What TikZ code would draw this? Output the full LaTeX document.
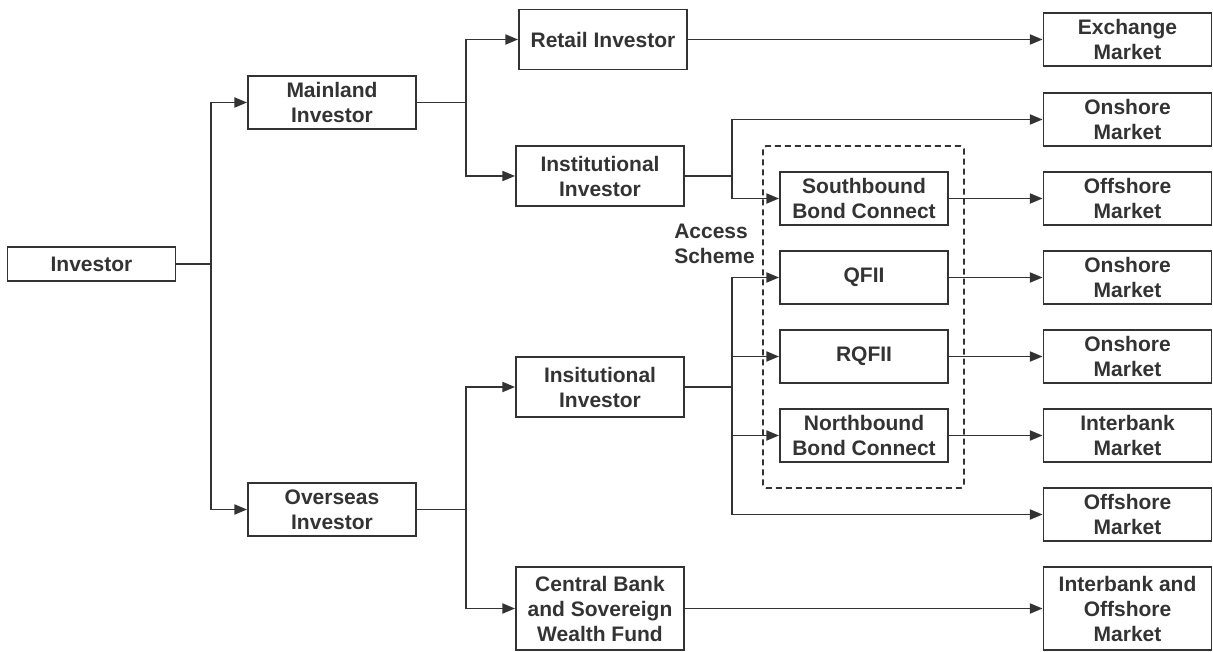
\documentclass[tikz,border=0pt]{standalone}
\usepackage{fontspec}
\setmainfont{Liberation Sans}
\usetikzlibrary{arrows.meta}
\definecolor{ink}{HTML}{333333}
\tikzset{
  box/.style={draw=ink, line width=1.4pt, align=center, text=ink,
    font=\fontsize{15.75}{18.75}\selectfont\bfseries,
    minimum width=126pt, minimum height=39.75pt, inner sep=0pt},
  arr/.style={draw=ink, line width=1.4pt, -{Triangle[length=9.5pt,width=7.5pt]}},
}

\begin{document}
\begin{tikzpicture}[x=0.75pt,y=-0.75pt]
\useasboundingbox (0,0) rectangle (1213,652);
%Investors
\node[box, minimum height=25.5pt] (inv) at (91.5,264) {Investor};
\node[box] (main) at (332,102.5) {Mainland\\Investor};
\node[box] (over) at (332,509.5) {Overseas\\Investor};
\node[box, minimum height=45pt] (retail) at (603,39.5) {Retail Investor};
\node[box, minimum height=45pt] (inst) at (600,176) {Institutional\\Investor};
\node[box, minimum height=45pt] (insit) at (600,387) {Insitutional\\Investor};
\node[box, minimum height=62.25pt] (cb) at (600,608.5) {Central Bank\\and Sovereign\\Wealth Fund};
%Access scheme
\draw[ink, line width=1.4pt, dashed, dash pattern=on 4.5pt off 3pt, rounded corners=2.5pt]
  (763,146) rectangle (964,488);
\node[anchor=west, align=left, text=ink, inner sep=0pt,
  font=\fontsize{15.75}{18.75}\selectfont\bfseries] (scheme) at (674,244) {Access\\Scheme};
\node[box] (sbc) at (864,198.5) {Southbound\\Bond Connect};
\node[box] (qfii) at (864,277.5) {QFII};
\node[box] (rqfii) at (864,356.5) {RQFII};
\node[box] (nbc) at (864,435.5) {Northbound\\Bond Connect};
%Markets
\node[box] (exch) at (1127.5,39.5) {Exchange\\Market};
\node[box] (on1) at (1127.5,119.5) {Onshore\\Market};
\node[box] (off1) at (1127.5,198.5) {Offshore\\Market};
\node[box] (on2) at (1127.5,277.5) {Onshore\\Market};
\node[box] (on3) at (1127.5,356.5) {Onshore\\Market};
\node[box] (inter) at (1127.5,435.5) {Interbank\\Market};
\node[box] (off2) at (1127.5,514.5) {Offshore\\Market};
\node[box, minimum height=62.25pt] (interoff) at (1127.5,608.5) {Interbank and\\Offshore\\Market};
%Branches
\coordinate (b1) at (211,0);
\coordinate (b2) at (466,0);
\coordinate (b3) at (732,0);
\draw[arr] (inv.east) -- (inv.east -| b1) |- (main.west);
\draw[arr] (inv.east -| b1) |- (over.west);
\draw[arr] (main.east) -- (main.east -| b2) |- (retail.west);
\draw[arr] (main.east -| b2) |- (inst.west);
\draw[arr] (over.east) -- (over.east -| b2) |- (insit.west);
\draw[arr] (over.east -| b2) |- (cb.west);
\draw[arr] (inst.east) -- (inst.east -| b3) |- (on1.west);
\draw[arr] (inst.east -| b3) |- (sbc.west);
\draw[arr] (insit.east) -- (insit.east -| b3) |- (qfii.west);
\draw[arr] (insit.east -| b3) |- (rqfii.west);
\draw[arr] (insit.east -| b3) |- (nbc.west);
\draw[arr] (insit.east -| b3) |- (off2.west);
%Straight
\draw[arr] (retail) -- (exch);
\draw[arr] (sbc) -- (off1);
\draw[arr] (qfii) -- (on2);
\draw[arr] (rqfii) -- (on3);
\draw[arr] (nbc) -- (inter);
\draw[arr] (cb) -- (interoff);
\end{tikzpicture}
\end{document}
